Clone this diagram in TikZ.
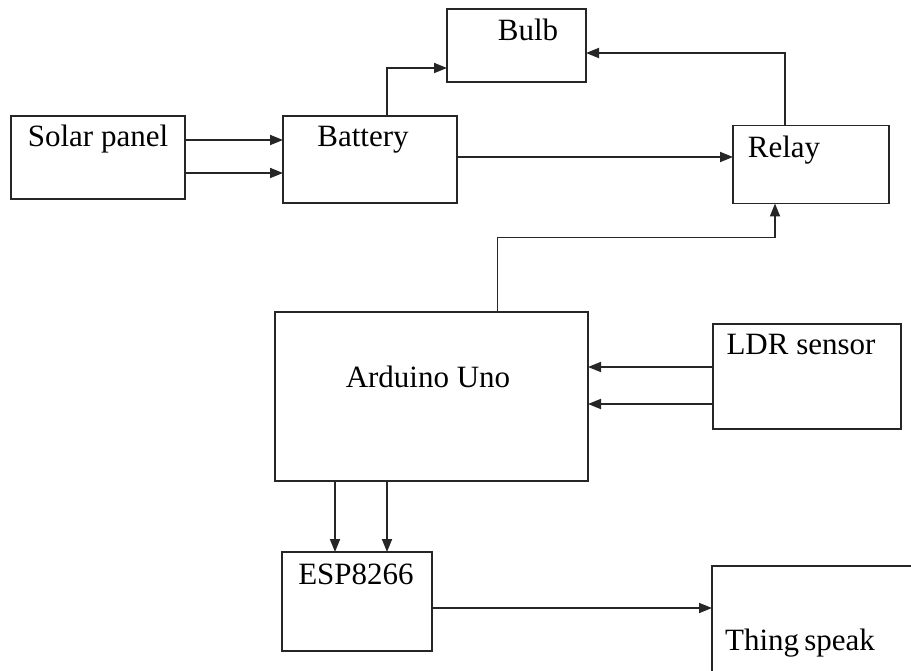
\documentclass[tikz,border=0pt]{standalone}
\usepackage{fontspec}
\setmainfont{Liberation Serif}
\usetikzlibrary{calc,arrows.meta}
\begin{document}
\begin{tikzpicture}[x=1pt,y=-1pt,
  box/.style={draw=black!85,line width=1.8pt,inner sep=0pt,outer sep=0pt},
  lbl/.style={anchor=base,inner sep=0pt,font=\fontsize{31}{36}\selectfont},
  arr/.style={draw=black!85,line width=1.8pt,-{Triangle[length=13pt,width=10pt]}}]
\useasboundingbox (0,0) rectangle (911,671);
\begin{scope}
\clip (0,0) rectangle (911,671);
\node[box,minimum width=139pt,minimum height=73pt] (bulb) at (516.5,45.5) {};
\node[box,minimum width=174pt,minimum height=83pt] (solar) at (98,157.5) {};
\node[box,minimum width=174pt,minimum height=87pt] (battery) at (370,159.5) {};
\node[box,minimum width=156pt,minimum height=78pt] (relay) at (811,164.5) {};
\node[box,minimum width=313pt,minimum height=169pt] (arduino) at (431.5,396.5) {};
\node[box,minimum width=188pt,minimum height=105pt] (ldr) at (807,376.5) {};
\node[box,minimum width=150pt,minimum height=99pt] (esp) at (357,601.5) {};
\node[box,minimum width=218pt,minimum height=134pt] (ts) at (821,633) {};

\node[lbl] (tbulb) at (528,41) {Bulb};
\node[lbl] (tsolar) at (98,147) {Solar panel};
\node[lbl] (tbattery) at (363,147) {Battery};
\node[lbl] (trelay) at (784,158) {Relay};
\node[lbl] (tarduino) at (428,387) {Arduino Uno};
\node[lbl] (tldr) at (801,354) {LDR sensor};
\node[lbl] (tesp) at (356,584) {ESP8266};
\node[lbl] (tts) at (800,650) {Thing\,speak};

\draw[arr] ($(solar.north east)+(0,24)$) -- ($(battery.north west)+(0,24)$);
\draw[arr] ($(solar.north east)+(0,57)$) -- ($(battery.north west)+(0,57)$);
\draw[arr] ($(battery.north)+(17,0)$) |- ($(bulb.west)+(0,22.5)$);
\draw[arr] ($(battery.east)+(0,-2.5)$) -- ($(relay.west)+(0,-7.5)$);
\draw[arr] ($(relay.north)+(-26,0)$) |- ($(bulb.east)+(0,7.5)$);
\draw[arr] ($(arduino.north)+(66,0)$) |- ($(relay.south)+(-36,34)$) -- ($(relay.south)+(-36,0)$);
\draw[arr] ($(ldr.north west)+(0,43)$) -- ($(arduino.north east)+(0,55)$);
\draw[arr] ($(ldr.north west)+(0,80)$) -- ($(arduino.north east)+(0,92)$);
\draw[arr] ($(arduino.south west)+(60,0)$) -- ($(esp.north west)+(53,0)$);
\draw[arr] ($(arduino.south west)+(112,0)$) -- ($(esp.north west)+(105,0)$);
\draw[arr] ($(esp.north east)+(0,56)$) -- ($(ts.north west)+(0,42)$);
\end{scope}
\end{tikzpicture}
\end{document}
